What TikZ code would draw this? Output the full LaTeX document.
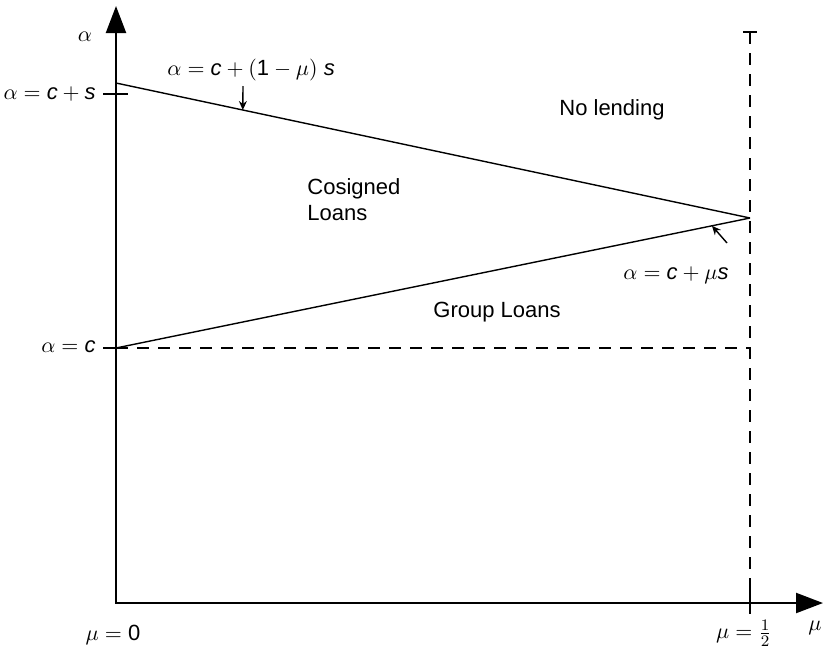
\documentclass[tikz,border=0pt]{standalone}
\usepackage{fontspec}
\setmainfont{Liberation Sans}
\usetikzlibrary{arrows.meta,calc}
\newcommand{\vc}{\textit{c}}
\newcommand{\vs}{\textit{s}}
\begin{document}
\begin{tikzpicture}[
        % common styles
        x=0.5pt, y=-0.5pt,
        axis/.style={line width=1.1pt,
            {Triangle[length=13.5pt,width=10pt]}-{Triangle[length=13.5pt,width=10pt]}},
        bound/.style={line width=0.7pt},
        guide/.style={line width=0.6pt, dash pattern=on 6pt off 4.5pt},
        tick/.style={line width=0.8pt},
        note/.style={-{Stealth[length=4.5pt,width=4pt]}, line width=0.7pt},
        lbl/.style={inner sep=0pt, font=\fontsize{11}{13}\selectfont}
    ]
        \useasboundingbox (0,0) rectangle (823,654);

        % key points
        \coordinate (O) at (116,603);
        \coordinate (ytop) at (116,6);
        \coordinate (xend) at (823,603);
        \coordinate (A) at (116,83);
        \coordinate (P) at (750,218);
        \coordinate (C) at (116,348);
        \coordinate (Q) at (750,348);
        \coordinate (T) at (750,32);
        \coordinate (H) at (750,603);
        \coordinate (upA) at ($(A)!0.2!(P)$);
        \coordinate (upB) at (243,86);
        \coordinate (loA) at ($(C)!0.94!(P)$);
        \coordinate (loB) at (727,243);

        % axes and guides
        \draw[axis] (ytop) -- (O) -- (xend);
        \draw[guide] (T) -- (H);
        \draw[guide] (C) -- (Q);
        \draw[tick] (743,32) -- (757,32);
        \draw[tick] (750,588) -- (750,614);
        \draw[tick] (103,94) -- (128,94);
        \draw[tick] (103,348) -- (128,348);

        % boundaries
        \draw[bound] (A) -- (P);
        \draw[bound] (C) -- (P);

        % labels
        \node[lbl] (alab) at (85,37) {$\alpha$};
        \node[lbl, anchor=east] (cs) at (96,94) {$\alpha = \vc + \vs$};
        \node[lbl, anchor=east] (c) at (96,347) {$\alpha = \vc$};
        \node[lbl] (mu0) at (113,635) {$\mu = \mbox{0}$};
        \node[lbl] (muhalf) at (744,633) {$\mu = \frac{1}{2}$};
        \node[lbl] (mulab) at (815,628) {$\mu$};
        \node[lbl, anchor=west] (upper) at (167,70) {$\alpha = \vc + (\mbox{1} - \mu)\ \vs$};
        \node[lbl, anchor=west] (lower) at (623,275) {$\alpha = \vc + \mu\vs$};
        \node[lbl] (nolend) at (612,110) {No lending};
        \node[lbl, anchor=west, align=left] (cosign) at (307,200) {Cosigned\\Loans};
        \node[lbl, anchor=west] (group) at (433,312) {Group Loans};

        % pointers
        \draw[note] (upB) -- (upA);
        \draw[note] (loB) -- (loA);

    \end{tikzpicture}
\end{document}
